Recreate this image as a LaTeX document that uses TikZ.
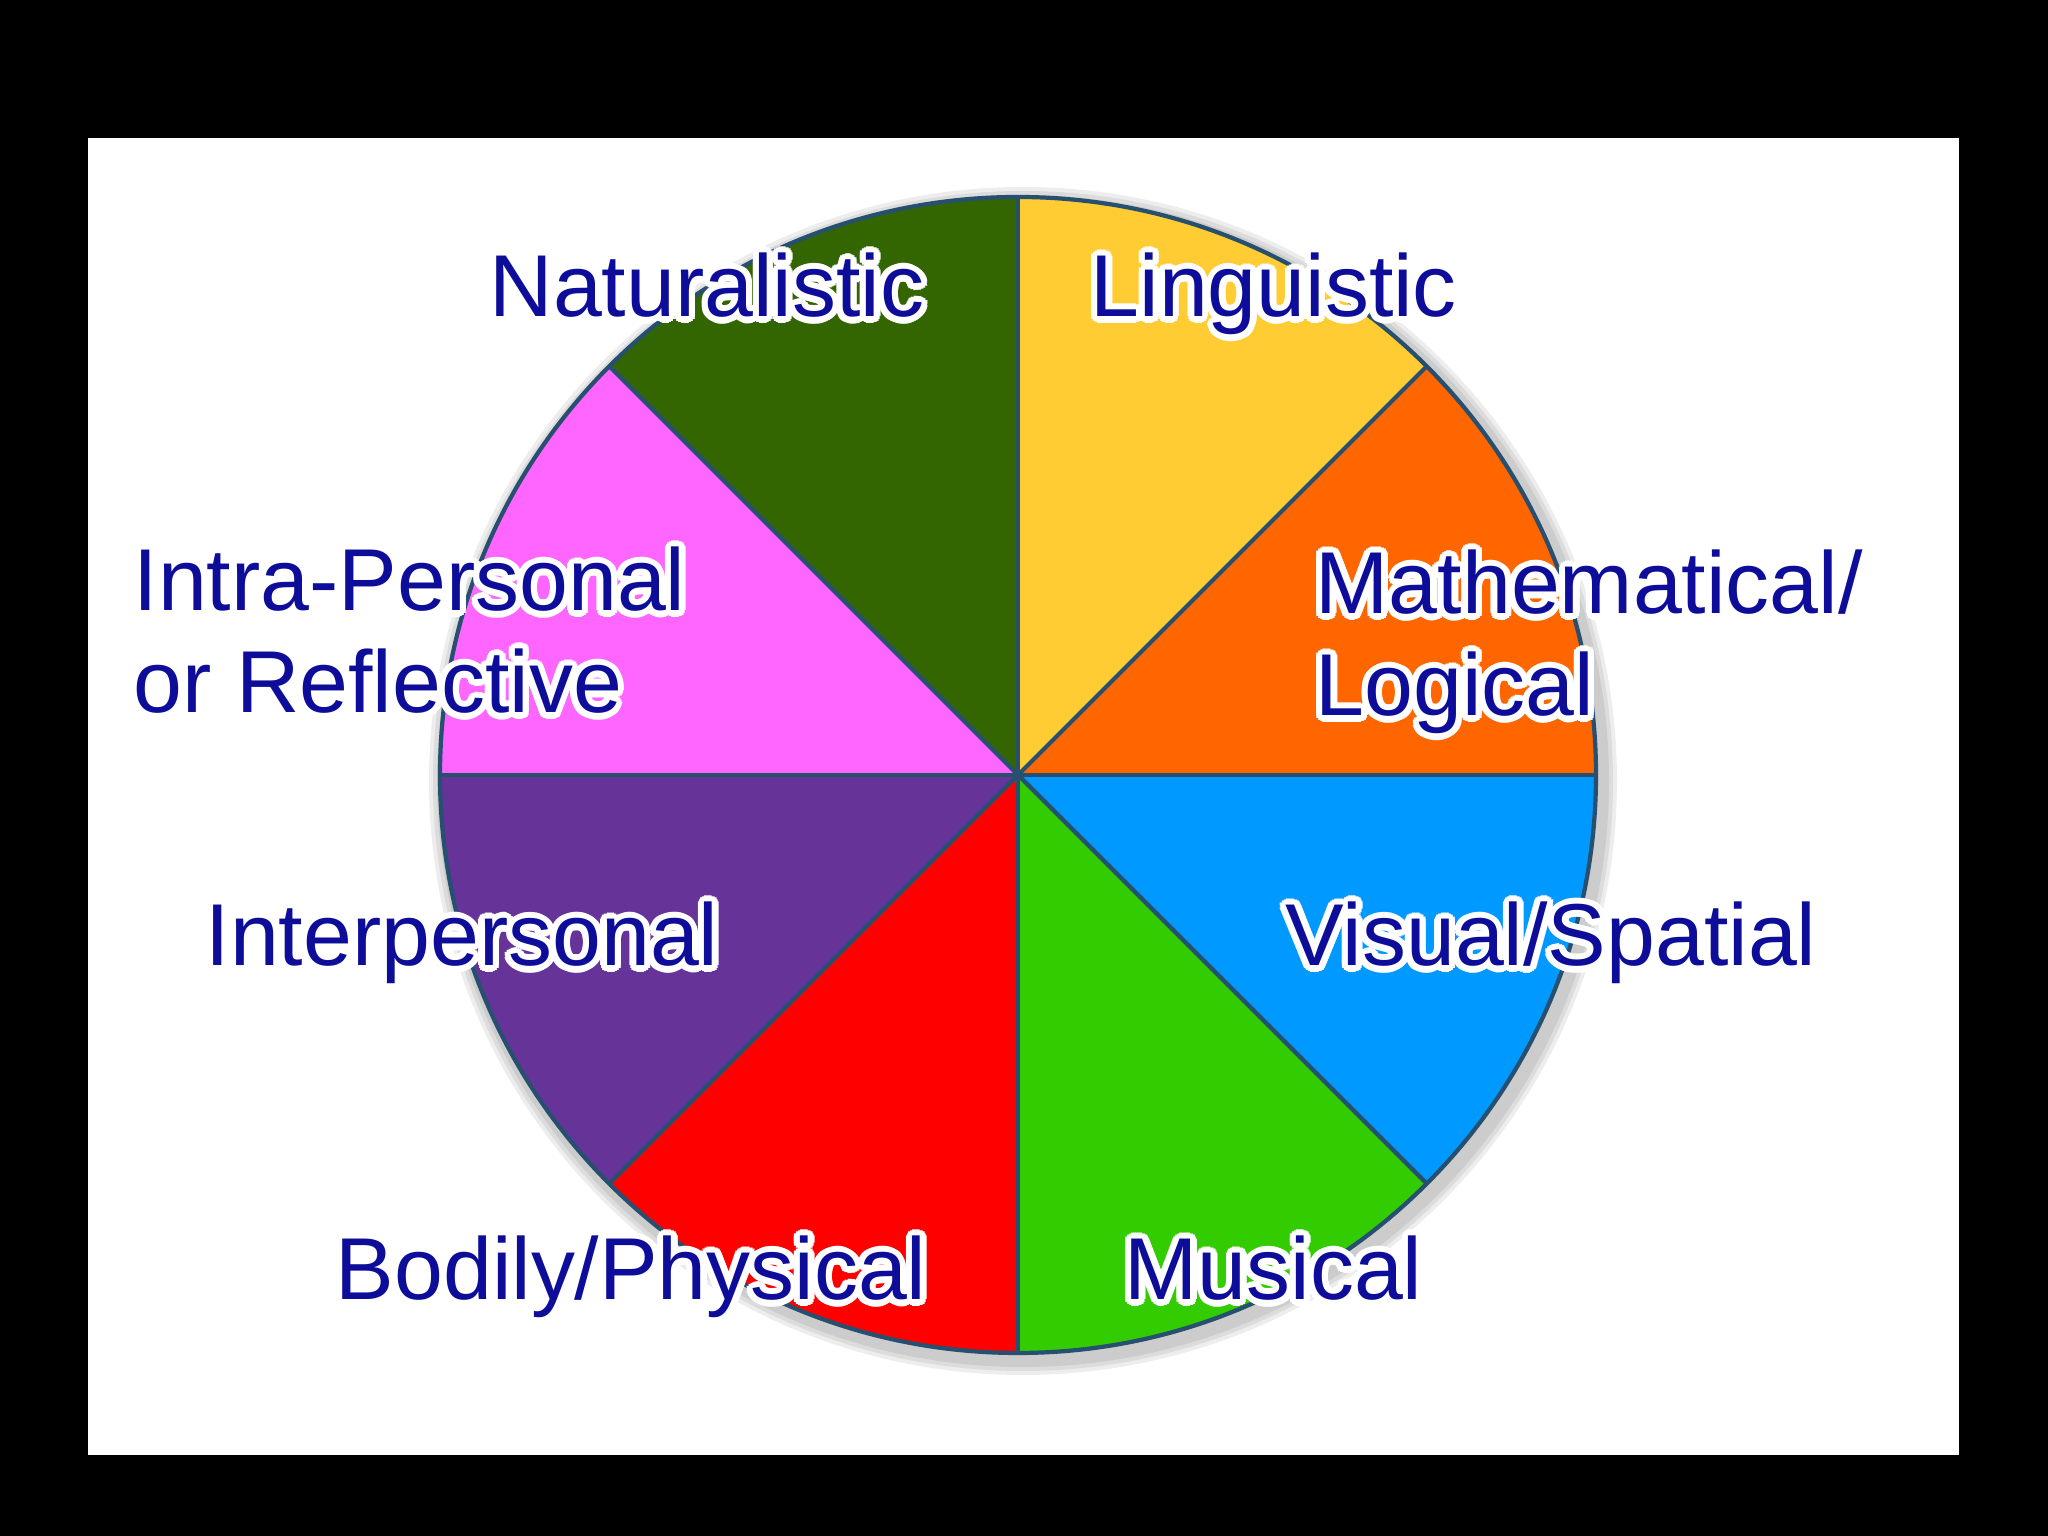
\documentclass[tikz,border=0pt]{standalone}
\usepackage{fontspec}
\setmainfont{Liberation Sans}
\usepackage[copies]{contour}
\contourlength{1.8pt}
\definecolor{natgreen}{HTML}{336600}
\definecolor{lingyellow}{HTML}{FFCC33}
\definecolor{mathorange}{HTML}{FF6600}
\definecolor{visblue}{HTML}{0099FF}
\definecolor{musgreen}{HTML}{33CC00}
\definecolor{bodred}{HTML}{FF0000}
\definecolor{interpurple}{HTML}{663399}
\definecolor{intrapink}{HTML}{FF66FF}
\definecolor{rimblue}{HTML}{264F70}
\definecolor{labelblue}{HTML}{0D0D99}

\begin{document}
\begin{tikzpicture}[
  rim/.style={draw=rimblue,line width=1.2pt},
  lbl/.style={inner sep=0pt,anchor=base west,text=labelblue,font=\fontsize{25}{30}\selectfont}]
  \fill[black] (0,0) rectangle (20.48,15.36);
  \fill[white] (0.88,0.81) rectangle (19.59,13.98);
  \coordinate (c) at (10.18,7.61);
  % soft shadow
  \foreach \s in {0.16,0.12,0.08}
  {
    \fill[black,opacity=0.07] ([shift={(0.05,-0.06)}]c) circle (5.78+\s);
  }
  \foreach \a/\col in {90/lingyellow,45/mathorange,0/visblue,-45/musgreen,-90/bodred,-135/interpurple,180/intrapink,135/natgreen}
  {
    \fill[\col] (c) -- ++(\a:5.78) arc[start angle=\a,end angle=\a-45,radius=5.78] -- cycle;
  }
  \foreach \a in {0,45,...,315}
  {
    \draw[rim] (c) -- ++(\a:5.78);
  }
  \draw[rim] (c) circle (5.78);
  % labels
  \node[lbl] (nat) at (4.89,12.19) {\contour{white}{Naturalistic}};
  \node[lbl] (ling) at (10.90,12.19) {\contour{white}{Linguistic}};
  \node[lbl] (math) at (13.15,9.22) {\contour{white}{Mathematical/}};
  \node[lbl] (logic) at ([yshift=-1.02cm]math.base west) {\contour{white}{Logical}};
  \node[lbl] (intra) at (1.33,9.25) {\contour{white}{Intra-Personal}};
  \node[lbl] (refl) at ([yshift=-1.02cm]intra.base west) {\contour{white}{or Reflective}};
  \node[lbl] (inter) at (2.05,5.70) {\contour{white}{Interpersonal}};
  \node[lbl] (vis) at (12.85,5.70) {\contour{white}{Visual/Spatial}};
  \node[lbl] (body) at (3.35,2.36) {\contour{white}{Bodily/Physical}};
  \node[lbl] (mus) at (11.24,2.36) {\contour{white}{Musical}};
\end{tikzpicture}
\end{document}
